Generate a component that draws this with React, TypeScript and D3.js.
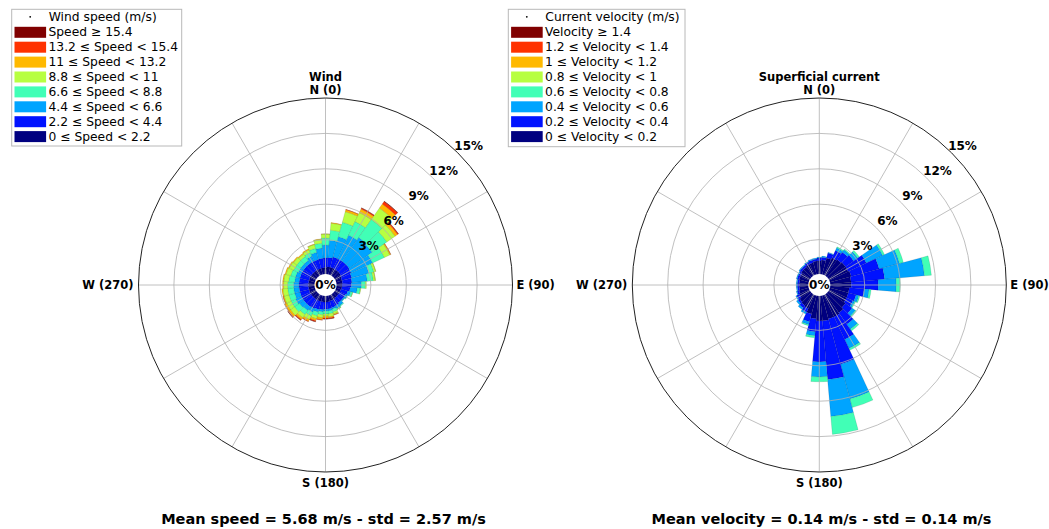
import React from "react";
import * as d3 from "d3";

// ---------- DATA ----------
const directions = [0, 10, 20, 30, 40, 50, 60, 70, 80, 90, 100, 110, 120, 130, 140, 150, 160, 170,
  180, 190, 200, 210, 220, 230, 240, 250, 260, 270, 280, 290, 300, 310, 320, 330, 340, 350];

const radialTicks = [3, 6, 9, 12, 15];
const radialMax = 15;
const spokeAngles = [0, 30, 60, 90, 120, 150, 180, 210, 240, 270, 300, 330];

const binColors = ["#000080", "#0012ff", "#00a4ff", "#41ffb6", "#b7ff41", "#ffb900", "#ff3200", "#800000"];

const windLabels = ["0 ≤ Speed < 2.2", "2.2 ≤ Speed < 4.4", "4.4 ≤ Speed < 6.6", "6.6 ≤ Speed < 8.8",
  "8.8 ≤ Speed < 11", "11 ≤ Speed < 13.2", "13.2 ≤ Speed < 15.4", "Speed ≥ 15.4"];
const currentLabels = ["0 ≤ Velocity < 0.2", "0.2 ≤ Velocity < 0.4", "0.4 ≤ Velocity < 0.6", "0.6 ≤ Velocity < 0.8",
  "0.8 ≤ Velocity < 1", "1 ≤ Velocity < 1.2", "1.2 ≤ Velocity < 1.4", "Velocity ≥ 1.4"];

// Wind frequencies (%) per direction sector, one array per speed bin
const wind0 = [0.65, 0.7, 0.7, 0.7, 0.7, 0.7, 0.65, 0.6, 0.6, 0.55, 0.55, 0.5, 0.5, 0.5, 0.5, 0.55, 0.55, 0.6, 0.6, 0.6, 0.6, 0.6, 0.6, 0.6, 0.6, 0.6, 0.6, 0.6, 0.6, 0.6, 0.6, 0.6, 0.6, 0.6, 0.6, 0.62];
const wind1 = [0.8, 0.8, 0.9, 0.9, 0.9, 0.9, 0.9, 0.85, 0.8, 0.8, 0.7, 0.6, 0.5, 0.5, 0.5, 0.55, 0.6, 0.6, 0.6, 0.65, 0.7, 0.75, 0.8, 0.8, 0.8, 0.8, 0.8, 0.8, 0.8, 0.8, 0.8, 0.8, 0.8, 0.8, 0.8, 0.8];
const wind2 = [1.09, 1.47, 1.79, 2.21, 2.47, 2.38, 2.01, 1.52, 1.31, 0.85, 0.61, 0.26, 0.19, 0.1, 0.27, 0.26, 0.12, 0.16, 0.16, 0.19, 0.23, 0.35, 0.38, 0.46, 0.55, 0.46, 0.46, 0.46, 0.38, 0.38, 0.3, 0.3, 0.3, 0.46, 0.63, 0.87];
const wind3 = [0.59, 0.85, 1.27, 1.27, 1.86, 1.53, 1.1, 0.42, 0.51, 0.34, 0.25, 0.17, 0.05, 0.03, 0.08, 0.08, 0.25, 0.25, 0.25, 0.25, 0.34, 0.34, 0.42, 0.51, 0.42, 0.51, 0.51, 0.51, 0.51, 0.42, 0.42, 0.42, 0.42, 0.34, 0.34, 0.42];
const wind4 = [0.34, 0.59, 0.93, 0.85, 1.19, 0.85, 0.51, 0.17, 0.17, 0.085, 0.05, 0.03, 0, 0, 0, 0.03, 0.17, 0.25, 0.17, 0.25, 0.25, 0.34, 0.34, 0.42, 0.42, 0.42, 0.42, 0.34, 0.42, 0.42, 0.42, 0.34, 0.25, 0.25, 0.34, 0.34];
const wind5 = [0.03, 0.05, 0.17, 0.34, 0.42, 0.25, 0.085, 0.02, 0.02, 0, 0, 0, 0, 0, 0, 0, 0.085, 0.085, 0.17, 0.17, 0.17, 0.17, 0.17, 0.17, 0.17, 0.085, 0.085, 0.085, 0.085, 0.085, 0.085, 0.085, 0.085, 0.085, 0.03, 0.03];
const wind6 = [0, 0, 0.03, 0.09, 0.26, 0.09, 0.02, 0, 0, 0, 0, 0, 0, 0, 0, 0, 0.03, 0.085, 0.085, 0.05, 0.085, 0.05, 0.085, 0.085, 0.03, 0.02, 0, 0, 0, 0, 0, 0, 0, 0, 0, 0];
const wind7 = [0, 0, 0, 0.02, 0.03, 0.01, 0, 0, 0, 0, 0, 0, 0, 0, 0, 0, 0, 0.02, 0.02, 0, 0.02, 0, 0.02, 0.02, 0, 0, 0, 0, 0, 0, 0, 0, 0, 0, 0, 0];

// Current frequencies (%) per direction sector, one array per velocity bin
const cur0 = [1.19, 1.27, 1.53, 1.7, 1.78, 1.86, 1.86, 1.95, 1.86, 1.86, 1.7, 1.7, 1.7, 1.86, 2.03, 2.12, 2.12, 2.2, 2.2, 2.03, 1.7, 1.36, 1.27, 1.19, 1.02, 0.93, 0.85, 0.85, 0.85, 0.93, 0.93, 1.02, 1.02, 1.1, 1.1, 1.19];
const cur1 = [0.25, 0.25, 0.42, 0.68, 0.76, 0.85, 1.69, 2.46, 2.85, 2.29, 1.27, 0.68, 0.59, 0.68, 1.19, 2.12, 3.98, 5.0, 3.47, 1.1, 0.68, 0.34, 0.25, 0.17, 0.25, 0.17, 0.17, 0.17, 0.17, 0.17, 0.17, 0.17, 0.17, 0.17, 0.25, 0.17];
const cur2 = [0.08, 0.09, 0.08, 0.25, 0.25, 0.42, 1.53, 1.78, 3.39, 1.53, 0.42, 0.25, 0.17, 0.34, 0.51, 0.85, 3.05, 3.14, 1.27, 0.34, 0.25, 0.17, 0.17, 0.17, 0.09, 0.08, 0.09, 0.09, 0.09, 0.08, 0.08, 0.08, 0.08, 0.09, 0.09, 0.09];
const cur3 = [0, 0, 0, 0.09, 0.09, 0.17, 0.17, 0.34, 0.59, 0.34, 0.17, 0.09, 0.08, 0.09, 0.17, 0.17, 0.76, 1.52, 0.42, 0.17, 0.09, 0, 0, 0, 0, 0, 0, 0, 0, 0, 0, 0, 0, 0, 0, 0];
const cur4 = [0, 0, 0, 0, 0, 0, 0, 0, 0, 0, 0, 0, 0, 0, 0, 0, 0, 0, 0, 0, 0, 0, 0, 0, 0, 0, 0, 0, 0, 0, 0, 0, 0, 0, 0, 0];
const cur5 = cur4;
const cur6 = cur4;
const cur7 = cur4;

const windSeries = [wind0, wind1, wind2, wind3, wind4, wind5, wind6, wind7];
const currentSeries = [cur0, cur1, cur2, cur3, cur4, cur5, cur6, cur7];

// ---------- COMPONENTS ----------
const FONT = "DejaVu Sans";
const R_IN = 10;
const R_OUT = 187;
const SECTOR = (10 * Math.PI) / 180;

function Rose({ cx, cy, series, title }: { cx: number; cy: number; series: number[][]; title: string }) {
  const r = d3.scaleLinear().domain([0, radialMax]).range([R_IN, R_OUT]);
  const arc = d3.arc();
  const bars: JSX.Element[] = [];
  directions.forEach((dir, i) => {
    let cum = 0;
    const a = (dir * Math.PI) / 180;
    series.forEach((s, b) => {
      const v = s[i];
      if (v > 0) {
        const d = arc({
          innerRadius: r(cum),
          outerRadius: r(cum + v),
          startAngle: a - SECTOR / 2,
          endAngle: a + SECTOR / 2,
        } as any) as string;
        bars.push(
          <path key={`${i}-${b}`} d={d} fill={binColors[b]} stroke="#000" strokeOpacity={0.35} strokeWidth={0.3} />
        );
      }
      cum += v;
    });
  });
  const deg = (a: number) => (a * Math.PI) / 180;
  return (
    <g transform={`translate(${cx},${cy})`}>
      {bars}
      {spokeAngles.map((a) => (
        <line key={a} x1={0} y1={0} x2={R_OUT * Math.sin(deg(a))} y2={-R_OUT * Math.cos(deg(a))} stroke="#b0b0b0" strokeWidth={0.8} />
      ))}
      {radialTicks.slice(0, -1).map((t) => (
        <circle key={t} r={r(t)} fill="none" stroke="#b0b0b0" strokeWidth={0.8} />
      ))}
      <circle r={R_OUT} fill="none" stroke="#222" strokeWidth={1} />
      <circle r={11} fill="#fff" />
      <text x={0} y={0} textAnchor="middle" dominantBaseline="central" fontFamily={FONT} fontWeight="bold" fontSize={12}>0%</text>
      {radialTicks.map((t) => (
        <text key={t} x={r(t) * Math.SQRT1_2 + 11} y={-r(t) * Math.SQRT1_2 - 7} textAnchor="middle" dominantBaseline="central"
          fontFamily={FONT} fontWeight="bold" fontSize={12}>{`${t}%`}</text>
      ))}
      <text x={0} y={-208} textAnchor="middle" dominantBaseline="central" fontFamily={FONT} fontWeight="bold" fontSize={11.5}>{title}</text>
      <text x={0} y={-195} textAnchor="middle" dominantBaseline="central" fontFamily={FONT} fontWeight="bold" fontSize={11.5}>N (0)</text>
      <text x={0} y={198} textAnchor="middle" dominantBaseline="central" fontFamily={FONT} fontWeight="bold" fontSize={11.5}>S (180)</text>
      <text x={R_OUT + 4} y={0} textAnchor="start" dominantBaseline="central" fontFamily={FONT} fontWeight="bold" fontSize={11.5}>E (90)</text>
      <text x={-R_OUT - 5} y={0} textAnchor="end" dominantBaseline="central" fontFamily={FONT} fontWeight="bold" fontSize={11.5}>W (270)</text>
    </g>
  );
}

function Legend({ x, y, width, height, header, labels }: { x: number; y: number; width: number; height: number; header: string; labels: string[] }) {
  const rows = labels.map((l, i) => ({ label: l, color: binColors[i] })).reverse();
  return (
    <g>
      <rect x={x} y={y} width={width} height={height} fill="#fff" stroke="#b8b8b8" strokeWidth={1} />
      <circle cx={x + 18.5} cy={y + 7.5} r={0.9} fill="#000" />
      <text x={x + 37} y={y + 7.5} dominantBaseline="central" fontFamily={FONT} fontSize={12.3}>{header}</text>
      {rows.map((row, i) => (
        <g key={i}>
          <rect x={x + 2.8} y={y + 23 + i * 14.9 - 5.5} width={31.6} height={11} fill={row.color} />
          <text x={x + 36.8} y={y + 23 + i * 14.9} dominantBaseline="central" fontFamily={FONT} fontSize={12.3}>{row.label}</text>
        </g>
      ))}
    </g>
  );
}

export default function App() {
  return (
    <svg width={1049} height={529} style={{ position: "absolute", left: 0, top: 0, background: "#fff" }}>
      <rect width={1049} height={529} fill="#fff" />
      <Rose cx={325.5} cy={285} series={windSeries} title="Wind" />
      <Rose cx={819.3} cy={285} series={currentSeries} title="Superficial current" />
      <Legend x={11.7} y={9.3} width={170} height={136.7} header="Wind speed (m/s)" labels={windLabels} />
      <Legend x={508.3} y={9.3} width={176.7} height={137.4} header="Current velocity (m/s)" labels={currentLabels} />
      <text x={323.5} y={519} textAnchor="middle" dominantBaseline="central" fontFamily={FONT} fontWeight="bold" fontSize={14.5}>
        Mean speed = 5.68 m/s - std = 2.57 m/s
      </text>
      <text x={821.5} y={519} textAnchor="middle" dominantBaseline="central" fontFamily={FONT} fontWeight="bold" fontSize={14.5}>
        Mean velocity = 0.14 m/s - std = 0.14 m/s
      </text>
    </svg>
  );
}
